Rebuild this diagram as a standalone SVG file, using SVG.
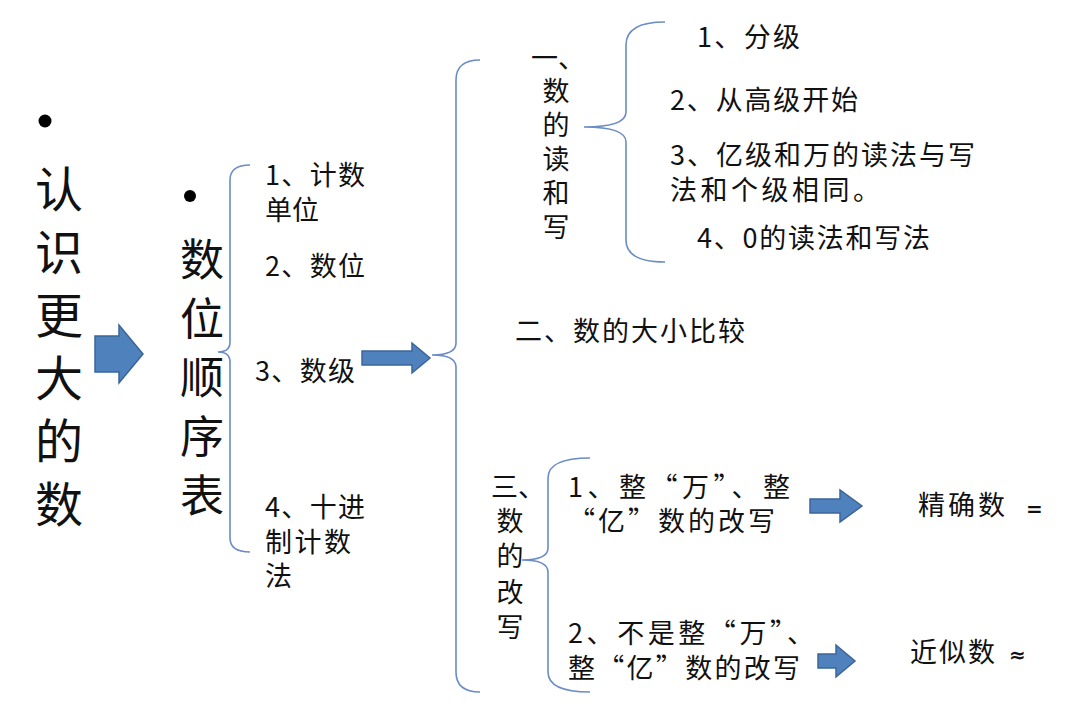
<svg xmlns="http://www.w3.org/2000/svg" width="1080" height="723" viewBox="0 0 1080 723">
<style>
.t{font-family:"Noto Sans CJK SC","Noto Sans",sans-serif;fill:#111;font-size:27px}
.big{font-family:"Noto Sans CJK SC","Noto Sans",sans-serif;fill:#111;font-size:48px;text-anchor:middle}
.mid{font-family:"Noto Sans CJK SC","Noto Sans",sans-serif;fill:#111;font-size:44px;text-anchor:middle}
.v{font-family:"Noto Sans CJK SC","Noto Sans",sans-serif;fill:#111;font-size:27px;text-anchor:middle}
.sym{font-family:"DejaVu Sans",sans-serif;fill:#111;font-size:20px;font-weight:bold}
.br{fill:none;stroke:#6a8cc7;stroke-width:1.6}
.ar{fill:#4f81bd;stroke:#3a659a;stroke-width:1.5}
</style>
<rect width="1080" height="723" fill="#fff"/>
<g id="root">
<circle cx="45" cy="121" r="6.5" fill="#000"/>
<text class="big" x="59" y="207"><tspan x="59" y="207">认</tspan><tspan x="59" y="270">识</tspan><tspan x="59" y="333">更</tspan><tspan x="59" y="396">大</tspan><tspan x="59" y="459">的</tspan><tspan x="59" y="522">数</tspan></text>
</g>
<g id="table">
<circle cx="190" cy="196" r="6" fill="#000"/>
<text class="mid" x="202" y="276"><tspan x="202" y="276">数</tspan><tspan x="202" y="335">位</tspan><tspan x="202" y="394">顺</tspan><tspan x="202" y="453">序</tspan><tspan x="202" y="512">表</tspan></text>
</g>
<g id="table-items">
<text class="t" x="265" y="185" textLength="100" lengthAdjust="spacing">1、计数</text>
<text class="t" x="265" y="220">单位</text>
<text class="t" x="265" y="276" textLength="100" lengthAdjust="spacing">2、数位</text>
<text class="t" x="255" y="381" textLength="100" lengthAdjust="spacing">3、数级</text>
<text class="t" x="265" y="517" textLength="100" lengthAdjust="spacing">4、十进</text>
<text class="t" x="265" y="552" textLength="86" lengthAdjust="spacing">制计数</text>
<text class="t" x="265" y="586">法</text>
</g>
<g id="read-write">
<text class="v" x="556" y="68"><tspan x="558" y="68">一、</tspan><tspan x="556" y="101">数</tspan><tspan x="556" y="135">的</tspan><tspan x="556" y="169">读</tspan><tspan x="556" y="203">和</tspan><tspan x="556" y="237">写</tspan></text>
</g>
<g id="rw-items">
<text class="t" x="697" y="47" textLength="103" lengthAdjust="spacing">1、分级</text>
<text class="t" x="670" y="110" textLength="188" lengthAdjust="spacing">2、从高级开始</text>
<text class="t" x="670" y="165" textLength="305" lengthAdjust="spacing">3、亿级和万的读法与写</text>
<text class="t" x="670" y="200" textLength="210" lengthAdjust="spacing">法和个级相同。</text>
<text class="t" x="697" y="248" textLength="233" lengthAdjust="spacing">4、0的读法和写法</text>
</g>
<g id="compare">
<text class="t" x="515" y="341" textLength="230" lengthAdjust="spacing">二、数的大小比较</text>
</g>
<g id="rewrite">
<text class="v" x="518" y="497"><tspan x="518" y="497">三、</tspan><tspan x="510" y="531">数</tspan><tspan x="510" y="566">的</tspan><tspan x="510" y="602">改</tspan><tspan x="510" y="637">写</tspan></text>
</g>
<g id="rewrite-items">
<text class="t" x="568" y="497" textLength="222" lengthAdjust="spacing">1、整“万”、整</text>
<text class="t" x="568" y="531" textLength="207" lengthAdjust="spacing">“亿”数的改写</text>
<text class="t" x="568" y="643" textLength="246" lengthAdjust="spacing">2、不是整“万”、</text>
<text class="t" x="568" y="678" textLength="232" lengthAdjust="spacing">整“亿”数的改写</text>
<text class="t" x="918" y="515" textLength="87" lengthAdjust="spacing">精确数</text>
<text class="sym" x="1026" y="516">=</text>
<text class="t" x="910" y="662" textLength="85" lengthAdjust="spacing">近似数</text>
<text class="sym" x="1009" y="662">≈</text>
</g>
<g id="connectors">
<path class="ar" d="M95,336 H119 V325 L143,354 L119,383 V372 H95 Z"/>
<path class="ar" d="M362,351 H412 V343 L430,358 L412,373 V365 H362 Z"/>
<path class="ar" d="M810,499 H840 V490 L862,506 L840,522 V513 H810 Z"/>
<path class="ar" d="M818,654 H836 V645 L855,661 L836,677 V668 H818 Z"/>
<path class="br" d="M250,165 Q230,165 230,180 V342 Q230,352 218,352 Q230,352 230,362 V538 Q230,552 250,552"/>
<path class="br" d="M480,60 Q456,60 456,80 V343 Q456,355 432,355 Q456,355 456,367 V672 Q456,692 480,692"/>
<path class="br" d="M665,22 Q626,22 626,45 V112 Q626,127 584,127 Q626,127 626,142 V240 Q626,262 665,262"/>
<path class="br" d="M590,458 Q548,458 548,478 V548 Q548,560 522,560 Q548,560 548,572 V672 Q548,692 590,692"/>
</g>
</svg>
